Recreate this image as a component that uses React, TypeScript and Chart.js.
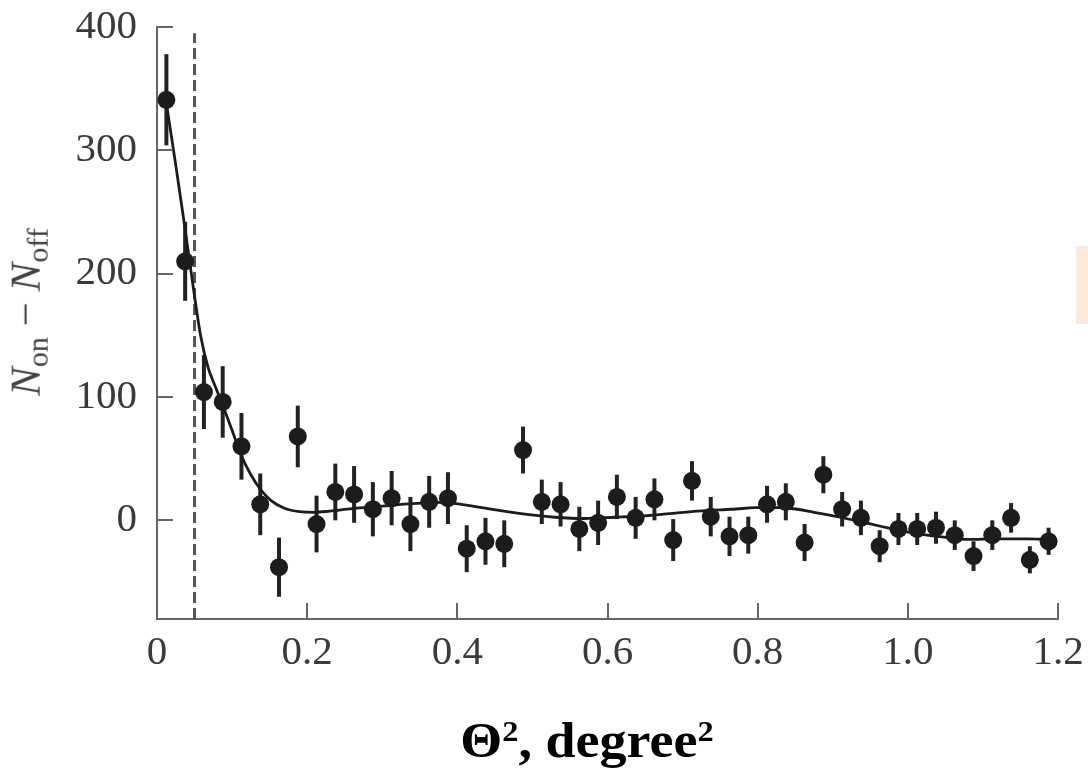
import React, { useEffect, useRef } from "react";
import { Chart, registerables } from "chart.js";

Chart.register(...registerables);

// Bin centres (Θ², degree²)
const binCenters = [
  0.0125, 0.0375, 0.0625, 0.0875, 0.1125, 0.1375, 0.1625, 0.1875,
  0.2125, 0.2375, 0.2625, 0.2875, 0.3125, 0.3375, 0.3625, 0.3875,
  0.4125, 0.4375, 0.4625, 0.4875, 0.5125, 0.5375, 0.5625, 0.5875,
  0.6125, 0.6375, 0.6625, 0.6875, 0.7125, 0.7375, 0.7625, 0.7875,
  0.8125, 0.8375, 0.8625, 0.8875, 0.9125, 0.9375, 0.9625, 0.9875,
  1.0125, 1.0375, 1.0625, 1.0875, 1.1125, 1.1375, 1.1625, 1.1875,
];

// N_on − N_off per bin
const excessCounts = [
  341, 210, 104, 96, 60, 13, -38, 68,
  -3, 23, 21, 9, 18, -3, 15, 18,
  -23, -17, -19, 57, 15, 13, -7, -2,
  19, 2, 17, -16, 32, 3, -13, -12,
  13, 15, -18, 37, 9, 2, -21, -7,
  -7, -6, -12, -29, -12, 2, -32, -17,
];

// symmetric 1σ errors
const excessErrors = [
  37, 32, 30, 29, 27, 25, 24, 25,
  23, 23, 23, 22, 22, 22, 21, 21,
  19, 19, 19, 19, 18, 18, 18, 18,
  18, 17, 17, 17, 16, 16, 16, 15,
  15, 15, 15, 15, 14, 14, 13, 13,
  13, 13, 12, 12, 12, 12, 11, 11,
];

// fitted curve
const fitX = [
  0.0125, 0.025, 0.037, 0.049, 0.058, 0.068, 0.078, 0.0865, 0.1, 0.112,
  0.125, 0.138, 0.152, 0.169, 0.19, 0.21, 0.23, 0.26, 0.3, 0.34,
  0.38, 0.41, 0.445, 0.49, 0.53, 0.57, 0.61, 0.645, 0.675, 0.72,
  0.765, 0.81, 0.84, 0.875, 0.91, 0.94, 0.965, 1.0, 1.045, 1.08,
  1.12, 1.16, 1.1875,
];
const fitY = [
  338, 288, 238, 186, 150, 124, 108, 95, 73, 53,
  37, 25, 16, 10, 7, 6.5, 7.5, 9.5, 11.5, 13.5,
  14.5, 12.5, 9, 5, 2.5, 1.5, 2.5, 3.5, 5, 7.5,
  9, 10.5, 10, 6.5, 2.5, -1.5, -5, -9.5, -13.5, -15.5,
  -15, -15, -15.5,
];

// vertical cut line
const cutX = 0.05;
const cutYRange = [-80, 395];

const xTickValues = [0, 0.2, 0.4, 0.6, 0.8, 1.0, 1.2];
const yTickValues = [0, 100, 200, 300, 400];
const xRange = [0, 1.2];
const yRange = [-80, 400];

const errorBarPlugin = {
  id: "errorBars",
  beforeDatasetsDraw(chart: any) {
    const { ctx, scales } = chart;
    const xs = scales.x;
    const ys = scales.y;
    ctx.save();
    ctx.strokeStyle = "#222";
    ctx.lineWidth = 4;
    ctx.lineCap = "butt";
    for (let i = 0; i < binCenters.length; i++) {
      const px = xs.getPixelForValue(binCenters[i]);
      ctx.beginPath();
      ctx.moveTo(px, ys.getPixelForValue(excessCounts[i] + excessErrors[i]));
      ctx.lineTo(px, ys.getPixelForValue(excessCounts[i] - excessErrors[i]));
      ctx.stroke();
    }
    ctx.restore();
  },
};

const inwardTicksPlugin = {
  id: "inwardTicks",
  afterDatasetsDraw(chart: any) {
    const { ctx, scales, chartArea } = chart;
    const xs = scales.x;
    const ys = scales.y;
    const len = 16;
    ctx.save();
    ctx.strokeStyle = "#666";
    ctx.lineWidth = 2;
    xTickValues.forEach((v) => {
      const px = Math.round(xs.getPixelForValue(v));
      ctx.beginPath();
      ctx.moveTo(px, chartArea.bottom);
      ctx.lineTo(px, chartArea.bottom - len);
      ctx.stroke();
    });
    yTickValues.forEach((v) => {
      const py = Math.round(ys.getPixelForValue(v));
      ctx.beginPath();
      ctx.moveTo(chartArea.left, py);
      ctx.lineTo(chartArea.left + len, py);
      ctx.stroke();
    });
    ctx.restore();
  },
};

export default function App() {
  const canvasRef = useRef<HTMLCanvasElement | null>(null);

  useEffect(() => {
    if (!canvasRef.current) return;
    const chart = new Chart(canvasRef.current, {
      type: "scatter",
      data: {
        datasets: [
          {
            type: "scatter",
            label: "data",
            data: binCenters.map((x, i) => ({ x, y: excessCounts[i] })),
            pointRadius: 9,
            pointBackgroundColor: "#1c1c1c",
            pointBorderColor: "#1c1c1c",
            pointBorderWidth: 0,
            order: 1,
          },
          {
            type: "line",
            label: "fit",
            data: fitX.map((x, i) => ({ x, y: fitY[i] })),
            borderColor: "#1c1c1c",
            borderWidth: 2.8,
            pointRadius: 0,
            cubicInterpolationMode: "monotone",
            fill: false,
            order: 2,
          },
          {
            type: "line",
            label: "cut",
            data: [
              { x: cutX, y: cutYRange[0] },
              { x: cutX, y: cutYRange[1] },
            ],
            borderColor: "#555",
            borderWidth: 3,
            borderDash: [11, 5],
            pointRadius: 0,
            fill: false,
            order: 3,
          },
        ],
      } as any,
      options: {
        responsive: false,
        animation: false,
        maintainAspectRatio: false,
        layout: { padding: { top: 27, right: 30, left: 0, bottom: 0 } },
        plugins: {
          legend: { display: false },
          tooltip: { enabled: false },
          title: { display: false },
        },
        scales: {
          x: {
            type: "linear",
            min: xRange[0],
            max: xRange[1],
            afterBuildTicks: (axis: any) => {
              axis.ticks = xTickValues.map((v) => ({ value: v }));
            },
            afterFit: (s: any) => {
              s.height = 152;
              s.paddingLeft = 0;
              s.paddingRight = 0;
            },
            grid: { display: false, drawTicks: false },
            border: { display: true, color: "#666", width: 2 },
            ticks: {
              padding: 10,
              color: "#3a3a3a",
              font: { family: "'Liberation Serif', serif", size: 41 },
              maxRotation: 0,
              callback: (v: any) => (Number(v) === 0 ? "0" : Number(v).toFixed(1)),
            },
          },
          y: {
            type: "linear",
            min: yRange[0],
            max: yRange[1],
            afterBuildTicks: (axis: any) => {
              axis.ticks = yTickValues.map((v) => ({ value: v }));
            },
            afterFit: (s: any) => {
              s.width = 157;
              s.paddingTop = 0;
              s.paddingBottom = 0;
            },
            grid: { display: false, drawTicks: false },
            border: { display: true, color: "#666", width: 2 },
            ticks: {
              padding: 20,
              color: "#3a3a3a",
              font: { family: "'Liberation Serif', serif", size: 41 },
              callback: (v: any) => String(v),
            },
          },
        },
      } as any,
      plugins: [errorBarPlugin, inwardTicksPlugin],
    });
    return () => chart.destroy();
  }, []);

  return (
    <div
      style={{
        position: "fixed",
        left: 0,
        top: 0,
        width: 1088,
        height: 771,
        background: "#fff",
        overflow: "hidden",
      }}
    >
      <canvas
        ref={canvasRef}
        width={1088}
        height={771}
        style={{ position: "absolute", left: 0, top: 0, width: 1088, height: 771 }}
      />
      <div
        style={{
          position: "absolute",
          left: 28,
          top: 312,
          transform: "translate(-50%, -50%) rotate(-90deg)",
          whiteSpace: "nowrap",
          fontFamily: "'Liberation Serif', serif",
          fontSize: 43,
          lineHeight: 1,
          color: "#444",
        }}
      >
        <i>N</i>
        <sub style={{ fontSize: "0.7em", verticalAlign: "-0.25em" }}>on</sub>
        {" \u2212 "}
        <i>N</i>
        <sub style={{ fontSize: "0.7em", verticalAlign: "-0.25em" }}>off</sub>
      </div>
      <div
        style={{
          position: "absolute",
          left: 587,
          top: 715,
          transform: "translateX(-50%) scaleX(1.08)",
          whiteSpace: "nowrap",
          fontFamily: "'Liberation Serif', serif",
          fontWeight: "bold",
          fontSize: 50,
          lineHeight: 1,
          color: "#000",
        }}
      >
        Θ<sup style={{ fontSize: "0.6em", verticalAlign: "0.55em" }}>2</sup>, degree
        <sup style={{ fontSize: "0.6em", verticalAlign: "0.55em" }}>2</sup>
      </div>
      <div
        style={{
          position: "absolute",
          left: 1076,
          top: 246,
          width: 12,
          height: 78,
          background: "#fde9da",
        }}
      />
    </div>
  );
}
